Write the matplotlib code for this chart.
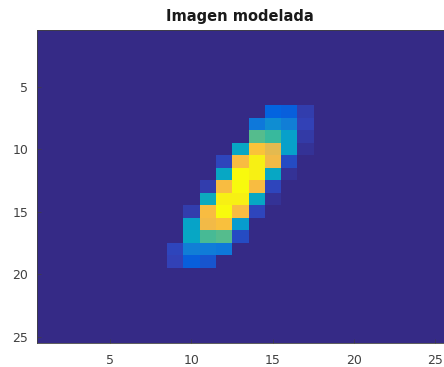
import matplotlib
matplotlib.use("Agg")
import matplotlib.pyplot as plt
import numpy as np
from matplotlib.colors import LinearSegmentedColormap

# parula-like colormap (subset of MATLAB's parula table)
parula_pts = [
    (0.2081, 0.1663, 0.5292), (0.1959, 0.2645, 0.7279), (0.0117, 0.3875, 0.8820),
    (0.0498, 0.4586, 0.8641), (0.0793, 0.5200, 0.8312), (0.0343, 0.5966, 0.8199),
    (0.0228, 0.6535, 0.7768), (0.0843, 0.6928, 0.7062), (0.2178, 0.7250, 0.6193),
    (0.3953, 0.7459, 0.5244), (0.5709, 0.7485, 0.4494), (0.7184, 0.7411, 0.3905),
    (0.8507, 0.7299, 0.3360), (0.9739, 0.7314, 0.2666), (0.9880, 0.8066, 0.1794),
    (0.9589, 0.8949, 0.1132), (0.9763, 0.9831, 0.0538),
]
parula = LinearSegmentedColormap.from_list("parula", parula_pts)

n = 25
row_start = 7   # first row of the non-zero block (1-based)
col_start = 9   # first column of the non-zero block (1-based)
block = [
    [0.00, 0.00, 0.00, 0.00, 0.00, 0.00, 0.13, 0.12, 0.05],
    [0.00, 0.00, 0.00, 0.00, 0.00, 0.20, 0.28, 0.23, 0.06],
    [0.00, 0.00, 0.00, 0.00, 0.00, 0.54, 0.50, 0.35, 0.04],
    [0.00, 0.00, 0.00, 0.00, 0.38, 0.84, 0.77, 0.35, 0.02],
    [0.00, 0.00, 0.00, 0.07, 0.82, 0.97, 0.80, 0.08, 0.00],
    [0.00, 0.00, 0.00, 0.38, 1.00, 0.97, 0.38, 0.02, 0.00],
    [0.00, 0.00, 0.05, 0.82, 1.00, 0.82, 0.07, 0.00, 0.00],
    [0.00, 0.00, 0.40, 0.97, 0.97, 0.38, 0.02, 0.00, 0.00],
    [0.00, 0.05, 0.82, 1.00, 0.82, 0.07, 0.00, 0.00, 0.00],
    [0.00, 0.36, 0.80, 0.83, 0.33, 0.00, 0.00, 0.00, 0.00],
    [0.00, 0.38, 0.52, 0.54, 0.08, 0.00, 0.00, 0.00, 0.00],
    [0.07, 0.23, 0.22, 0.20, 0.00, 0.00, 0.00, 0.00, 0.00],
    [0.06, 0.12, 0.10, 0.00, 0.00, 0.00, 0.00, 0.00, 0.00],
]
ticks = [5, 10, 15, 20, 25]

img = np.zeros((n, n))
b = np.array(block)
img[row_start - 1:row_start - 1 + b.shape[0], col_start - 1:col_start - 1 + b.shape[1]] = b

fig = plt.figure(figsize=(4.44, 3.67), dpi=100)
ax = fig.add_axes([0.0824, 0.0654, 0.9166, 0.8515])
ax.imshow(img, cmap=parula, vmin=0, vmax=1, interpolation="nearest",
          extent=(0.5, n + 0.5, n + 0.5, 0.5), aspect="auto")

ax.set_xticks(ticks)
ax.set_yticks(ticks)
ax.tick_params(direction="in", length=3, width=0.5, colors="#404040",
               labelsize=9)
ax.tick_params(axis="x", pad=8)
ax.tick_params(axis="y", pad=6)
for s in ax.spines.values():
    s.set_color("#404040")
    s.set_linewidth(0.6)

ax.set_title("Imagen modelada", fontsize=10.5, fontweight="bold", color="#1a1a1a", pad=7)

fig.savefig("out.png", dpi=100)
